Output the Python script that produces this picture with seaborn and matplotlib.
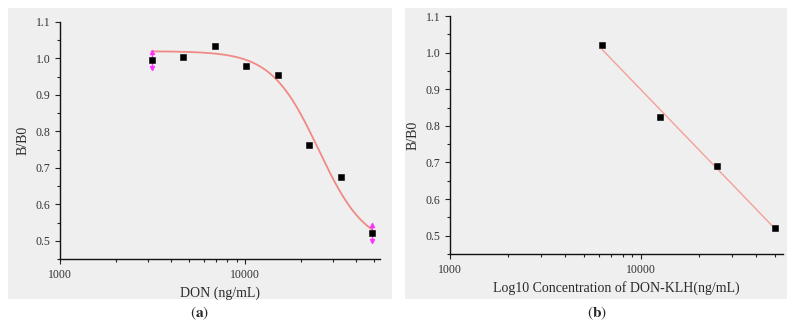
import numpy as np
import pandas as pd
import matplotlib
matplotlib.use("Agg")
import matplotlib.pyplot as plt
import seaborn as sns
from matplotlib.patches import Rectangle
from matplotlib.ticker import LogLocator, FixedLocator, MultipleLocator, NullFormatter

# panel (a): DON competitive curve
don_conc = [3125, 4630, 6900, 10100, 15000, 22300, 32900, 48800]
don_bb0 = [0.995, 1.004, 1.033, 0.978, 0.954, 0.762, 0.676, 0.520]
don_err = [0.022, 0, 0, 0, 0, 0, 0, 0.022]
# 4PL fit parameters
fit_top, fit_bottom, fit_ic50, fit_hill = 1.02, 0.48, 25000, 3.4

# panel (b): DON-KLH
klh_conc = [6250, 12500, 25000, 50000]
klh_bb0 = [1.020, 0.825, 0.691, 0.522]

sns.set_style("ticks")
plt.rcParams['font.family'] = ['Liberation Serif', 'DejaVu Serif']
plt.rcParams['mathtext.fontset'] = 'stix'

bg = "#efefef"
fig = plt.figure(figsize=(7.99, 3.26), dpi=100)
W, H = 799, 326

def px(x0, y0, x1, y1):
    return [x0 / W, 1 - y1 / H, (x1 - x0) / W, (y1 - y0) / H]

# gray panels behind each plot
for x0, x1 in [(8, 392), (405, 787)]:
    fig.patches.append(Rectangle((x0 / W, 1 - 299 / H), (x1 - x0) / W, 291 / H,
                                 transform=fig.transFigure, facecolor=bg,
                                 edgecolor="none", zorder=-5))

ax1 = fig.add_axes(px(60, 22, 380, 259))
ax2 = fig.add_axes(px(450, 16, 783, 254))

# --- (a)
xs = np.logspace(np.log10(don_conc[0]), np.log10(don_conc[-1]), 200)
ys = fit_bottom + (fit_top - fit_bottom) / (1 + (xs / fit_ic50) ** fit_hill)
sns.lineplot(x=xs, y=ys, ax=ax1, color="#f08a84", lw=1.3)
dfa = pd.DataFrame({"conc": don_conc, "bb0": don_bb0, "err": don_err})
ebar = dfa[dfa["err"] > 0]
ax1.errorbar(ebar["conc"], ebar["bb0"], yerr=ebar["err"], fmt="none",
             ecolor="#ff33ff", elinewidth=1.0, zorder=3)
ax1.scatter(ebar["conc"], ebar["bb0"] + ebar["err"], marker="^", s=8, color="#ff33ff", zorder=3)
ax1.scatter(ebar["conc"], ebar["bb0"] - ebar["err"], marker="v", s=8, color="#ff33ff", zorder=3)
sns.scatterplot(data=dfa, x="conc", y="bb0", ax=ax1, marker="s", s=24,
                color="black", edgecolor="black", zorder=4)
ax1.set_xlim(1000, 10 ** 4.73)
ax1.set_xlabel("DON (ng/mL)")

# --- (b)
dfb = pd.DataFrame({"conc": klh_conc, "bb0": klh_bb0})
slope, icpt = np.polyfit(np.log10(dfb["conc"]), dfb["bb0"], 1)
lx = np.array([klh_conc[0], klh_conc[-1]])
sns.lineplot(x=lx, y=slope * np.log10(lx) + icpt, ax=ax2, color="#f4a09a", lw=1.0)
sns.scatterplot(data=dfb, x="conc", y="bb0", ax=ax2, marker="s", s=24,
                color="black", edgecolor="black", zorder=4)
ax2.set_xlim(1000, 10 ** 4.743)
ax2.set_xlabel("Log10 Concentration of DON-KLH(ng/mL)")

for ax in (ax1, ax2):
    ax.set_facecolor(bg)
    ax.set_xscale("log")
    ax.set_ylim(0.45, 1.1)
    ax.set_ylabel("B/B0", fontsize=10, color="#2a2a2a", labelpad=4)
    ax.xaxis.label.set_fontsize(10)
    ax.xaxis.label.set_color("#2a2a2a")
    ax.yaxis.set_major_locator(FixedLocator([0.5, 0.6, 0.7, 0.8, 0.9, 1.0, 1.1]))
    ax.yaxis.set_minor_locator(MultipleLocator(0.05))
    ax.set_yticklabels(["0.5", "0.6", "0.7", "0.8", "0.9", "1.0", "1.1"])
    ax.xaxis.set_major_locator(FixedLocator([1000, 10000]))
    ax.set_xticklabels(["1000", "10000"])
    ax.xaxis.set_minor_locator(LogLocator(base=10, subs=np.arange(2, 10)))
    ax.xaxis.set_minor_formatter(NullFormatter())
    ax.tick_params(which="major", length=3.5, width=0.8, labelsize=8.5, colors="#222222",
                   labelcolor="#333333")
    ax.tick_params(which="minor", length=2, width=0.8, colors="#222222")
    for s in ("top", "right"):
        ax.spines[s].set_visible(False)
    for s in ("left", "bottom"):
        ax.spines[s].set_linewidth(1.0)
        ax.spines[s].set_color("#111111")

fig.text(200 / W, 1 - 313 / H, r"$(\mathbf{a})$", ha="center", va="center", fontsize=11)
fig.text(597 / W, 1 - 313 / H, r"$(\mathbf{b})$", ha="center", va="center", fontsize=11)

fig.savefig("out.png", dpi=100, facecolor="white")
